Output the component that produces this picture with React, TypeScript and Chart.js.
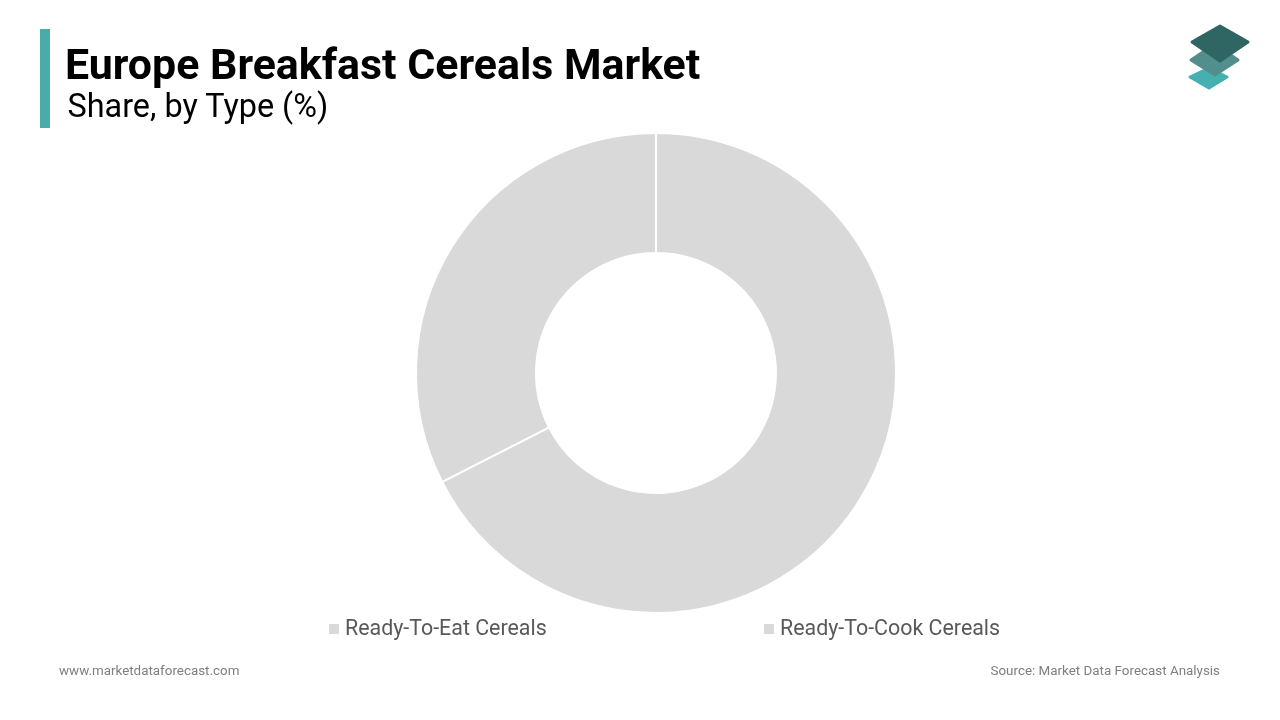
import React, { useEffect, useRef } from 'react';
import { Chart, registerables } from 'chart.js';

Chart.register(...registerables);

const categories = ['Ready-To-Eat Cereals', 'Ready-To-Cook Cereals'];
const shares = [67.5, 32.5];
const sliceColors = ['#d9d9d9', '#d9d9d9'];
const legendLeft = [329, 764];

const FONT = 'Roboto, sans-serif';

const textAt = (
  left: number,
  top: number,
  size: number,
  color: string,
  weight = 400,
): React.CSSProperties => ({
  position: 'absolute',
  left,
  top,
  fontFamily: FONT,
  fontSize: size,
  fontWeight: weight,
  color,
  lineHeight: 1,
  whiteSpace: 'nowrap',
});

const App: React.FC = () => {
  const canvasRef = useRef<HTMLCanvasElement | null>(null);

  useEffect(() => {
    const ctx = canvasRef.current?.getContext('2d');
    if (!ctx) return;

    const chart = new Chart(ctx, {
      type: 'doughnut',
      data: {
        labels: categories,
        datasets: [
          {
            data: shares,
            backgroundColor: sliceColors,
            borderColor: '#ffffff',
            borderWidth: 2,
          },
        ],
      },
      options: {
        responsive: false,
        animation: false,
        cutout: '50%',
        layout: { padding: { left: 415, right: 383, top: 132, bottom: 106 } },
        plugins: {
          legend: { display: false },
          tooltip: { enabled: false },
        },
      },
    });

    return () => {
      chart.destroy();
    };
  }, []);

  return (
    <div style={{ position: 'fixed', left: 0, top: 0, width: 1280, height: 720, background: '#fff', overflow: 'hidden' }}>
      <canvas ref={canvasRef} width={1280} height={720} style={{ position: 'absolute', left: 0, top: 0 }} />

      <div style={{ position: 'absolute', left: 40, top: 29, width: 10, height: 99, background: '#4aabab' }} />
      <div style={textAt(65, 43, 42.9, '#000000', 700)}>Europe Breakfast Cereals Market</div>
      <div style={textAt(67.5, 90, 32.4, '#000000')}>Share, by Type (%)</div>

      <svg style={{ position: 'absolute', left: 1180, top: 20 }} width={80} height={75} viewBox="0 0 80 75">
        <polygon points="29,48 10,57 29,68 47,57" fill="#45b0b0" stroke="#45b0b0" strokeWidth="3" strokeLinejoin="round" />
        <polygon points="35,24 11,40 35,55 58,40" fill="#528f8c" stroke="#528f8c" strokeWidth="3" strokeLinejoin="round" />
        <polygon points="40,6 12,22 40,41 68,22" fill="#2f6664" stroke="#2f6664" strokeWidth="3" strokeLinejoin="round" />
      </svg>

      {categories.map((name, i) => (
        <React.Fragment key={name}>
          <div style={{ position: 'absolute', left: legendLeft[i], top: 624, width: 10, height: 10, background: sliceColors[i] }} />
          <div style={textAt(legendLeft[i] + 16, 617, 21.4, '#595959')}>{name}</div>
        </React.Fragment>
      ))}

      <div style={textAt(59, 664, 13.4, '#7f7f7f')}>www.marketdataforecast.com</div>
      <div style={{ ...textAt(0, 664, 13.4, '#7f7f7f'), left: 'auto', right: 60 }}>Source: Market Data Forecast Analysis</div>
    </div>
  );
};

export default App;
